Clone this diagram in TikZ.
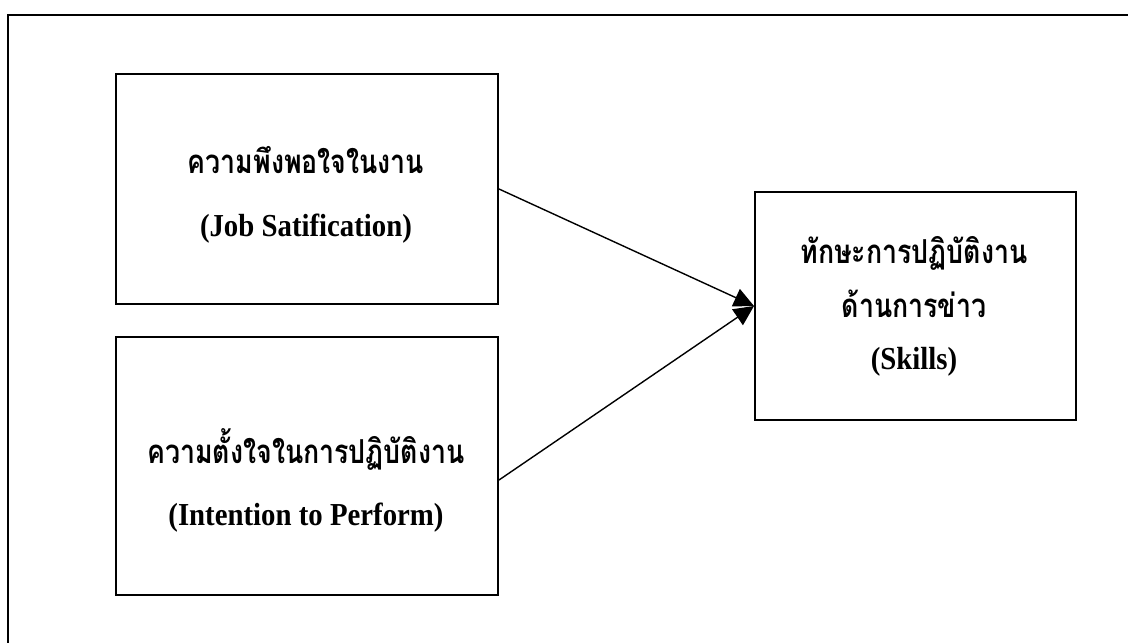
\documentclass[tikz,border=0pt]{standalone}
\usepackage{fontspec}
\setmainfont[FakeStretch=0.9]{Liberation Serif}
\newfontfamily\thaifont[Script=Thai,FakeStretch=0.81]{Loma}
\usetikzlibrary{arrows.meta}
\begin{document}
\begin{tikzpicture}[x=1pt,y=-1pt,
  boxst/.style={draw,line width=2pt,inner sep=0pt,anchor=north west},
  thaitxt/.style={font=\thaifont\bfseries\fontsize{33}{37}\selectfont,inner sep=0pt,anchor=base},
  engtxt/.style={font=\bfseries\fontsize{32}{36}\selectfont,inner sep=0pt,anchor=base},
  arr/.style={line width=1.4pt,-{Triangle[length=20pt,width=19pt]}}]
\useasboundingbox (0,0) rectangle (1128,643);
% outer frame (only top and left visible)
\draw[line width=2pt] (8,643) coordinate (fl) -- (8,15) coordinate (fc) -- (1128,15) coordinate (fr);
% boxes
\node[boxst,minimum width=382pt,minimum height=230pt] (b1) at (115,73) {};
\node[boxst,minimum width=382pt,minimum height=258pt] (b2) at (115,336) {};
\node[boxst,minimum width=321pt,minimum height=228pt] (b3) at (754,191) {};
% texts
\node[thaitxt] (t1) at (306,173) {ความพึงพอใจในงาน};
\node[engtxt] (e1) at (306,236) {(Job Satification)};
\node[thaitxt] (t2) at (306,463) {ความตั้งใจในการปฏิบัติงาน};
\node[engtxt] (e2) at (306,525) {(Intention to Perform)};
\node[thaitxt] (t3) at (914,263) {ทักษะการปฏิบัติงาน};
\node[thaitxt] (t4) at (914,317) {ด้านการข่าว};
\node[engtxt] (e3) at (914,369) {(Skills)};
% connectors
\coordinate (s1) at (b1.east);
\coordinate (s2) at ([yshift=-14pt]b2.east);
\draw[arr] (s1) -- (b3.west);
\draw[arr] (s2) -- (b3.west);
\end{tikzpicture}
\end{document}
